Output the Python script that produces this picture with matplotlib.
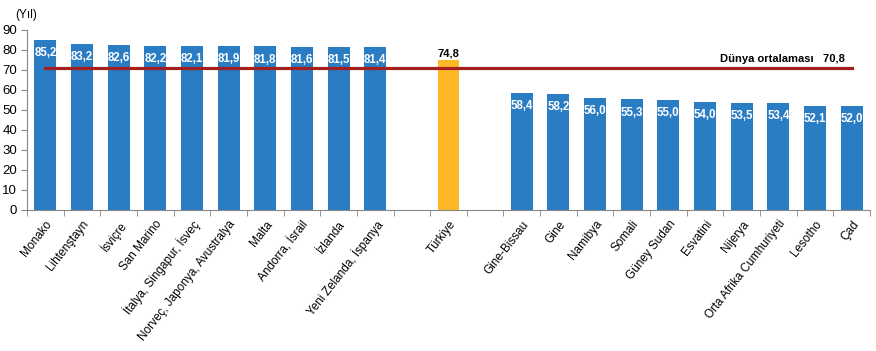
import numpy as np
import matplotlib
matplotlib.use("Agg")
import matplotlib.pyplot as plt

plt.rcParams['font.family'] = ['Liberation Sans', 'DejaVu Sans']

ulkeler = ["Monako", "Lihtenştayn", "İsviçre", "San Marino", "İtalya, Singapur, İsveç",
           "Norveç, Japonya, Avustralya", "Malta", "Andorra, İsrail", "İzlanda",
           "Yeni Zelanda, İspanya", "", "Türkiye", "", "Gine-Bissau", "Gine", "Namibya",
           "Somali", "Güney Sudan", "Esvatini", "Nijerya", "Orta Afrika Cumhuriyeti",
           "Lesotho", "Çad"]
degerler = [85.2, 83.2, 82.6, 82.2, 82.1, 81.9, 81.8, 81.6, 81.5, 81.4, None, 74.8, None,
            58.4, 58.2, 56.0, 55.3, 55.0, 54.0, 53.5, 53.4, 52.1, 52.0]
dunya_ort = 70.8
turkiye = "Türkiye"

mavi = "#2A7CC3"
sari = "#FDB827"
kirmizi = "#A3201E"

x = np.arange(len(ulkeler))

fig = plt.figure(figsize=(8.76, 3.51), dpi=100)
ax = fig.add_axes([27/876, 1 - 210/351, 843/876, 180/351])

for i, (u, v) in enumerate(zip(ulkeler, degerler)):
    if v is None:
        continue
    renk = sari if u == turkiye else mavi
    ax.bar(i, v, width=0.6, color=renk, zorder=2)
    etiket = f"{v:.1f}".replace(".", ",")
    if u == turkiye:
        ax.annotate(etiket, (i, v), xytext=(0, 1.5), textcoords="offset points",
                    ha="center", va="bottom", fontsize=8, fontweight="bold", color="black")
    else:
        ax.annotate(etiket, (i, v), xytext=(0, -9.5), textcoords="offset points",
                    ha="center", va="center", fontsize=8.3, fontweight="bold", color="white",
                    zorder=4)

# dunya ortalamasi cizgisi
ax.plot([x[0], x[-1]], [dunya_ort, dunya_ort], color=kirmizi, lw=2.3, zorder=3)
ax.annotate("Dünya ortalaması   " + f"{dunya_ort:.1f}".replace(".", ","),
            (x[-1], dunya_ort), xytext=(-5, 3.5), textcoords="offset points",
            ha="right", va="bottom", fontsize=8, fontweight="bold")

ax.set_xlim(-0.5, len(ulkeler) - 0.5)
ax.set_ylim(0, 90)
ax.set_yticks(np.arange(0, 91, 10))
ax.set_xticks(x)
ax.set_xticklabels(ulkeler, rotation=52, ha="right", rotation_mode="anchor", fontsize=8.5)
ax.set_xticks(np.arange(-0.5, len(ulkeler)), minor=True)
ax.tick_params(axis="x", which="major", length=0, pad=6)
ax.tick_params(axis="x", which="minor", length=4, color="#888888")
ax.tick_params(axis="y", length=4, color="#888888", labelsize=9.5, pad=3)

for s in ["top", "right"]:
    ax.spines[s].set_visible(False)
for s in ["left", "bottom"]:
    ax.spines[s].set_color("#888888")

fig.text(15/876, 1 - 15/351, "(Yıl)", fontsize=8.5, va="center", ha="left")

fig.savefig("out.png", dpi=100)
